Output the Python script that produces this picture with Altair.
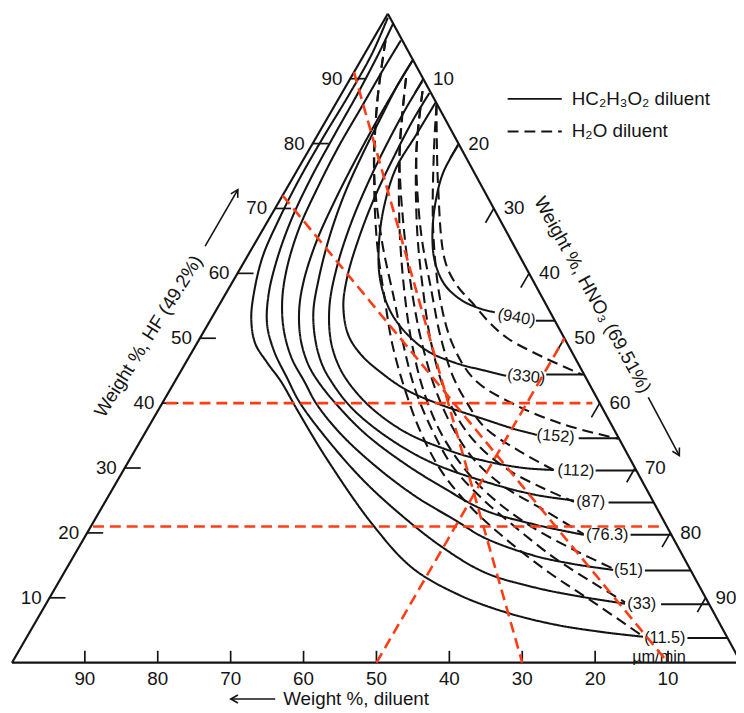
import altair as alt
import pandas as pd

FONT = "Liberation Sans, Arial, Helvetica, sans-serif"
INK = "#141414"
RED = "#ff3c14"

# ------------------------------------------------------------------
# Values.  Every point is (wt% HF, wt% HNO3);
# the diluent is the remainder (100 - HF - HNO3).
# ------------------------------------------------------------------
TICKS = [10, 20, 30, 40, 50, 60, 70, 80, 90]

RATES = ["940", "330", "152", "112", "87", "76.3", "51", "33", "11.5"]

# HC2H3O2 diluent (solid curves)
AC_940 = [(79.7, 20.1), (75.6, 20.2), (71.0, 21.5), (65.7, 23.8), (61.6, 26.3), (58.1, 29.5),
          (55.8, 33.0), (54.6, 36.0), (54.0, 38.4)]
AC_330 = [(86.3, 13.6), (81.3, 13.5), (76.1, 13.4), (70.3, 14.8), (64.9, 16.9), (59.6, 19.7),
          (55.0, 23.2), (51.7, 26.7), (48.2, 31.9), (46.2, 37.0), (45.0, 41.7), (44.2, 45.0)]
AC_152 = [(87.8, 12.0), (83.5, 11.9), (77.9, 12.2), (71.5, 12.8), (65.2, 13.9), (59.6, 15.3),
          (55.0, 17.1), (50.5, 20.1), (47.4, 23.5), (44.7, 27.6), (42.1, 32.3), (39.8, 38.2),
          (37.5, 45.5), (36.0, 50.4), (35.1, 53.9)]
AC_112 = [(89.6, 10.1), (85.8, 10.0), (80.2, 10.2), (74.1, 10.7), (67.7, 11.6), (61.1, 13.1),
          (55.0, 15.2), (49.7, 18.1), (45.9, 21.1), (43.1, 24.0), (39.3, 29.0), (35.5, 35.7),
          (32.9, 42.5), (31.1, 48.8), (30.0, 54.8), (29.7, 59.0)]
AC_87 = [(92.8, 7.1), (89.3, 7.0), (84.0, 7.3), (78.2, 7.7), (72.1, 8.4), (65.7, 9.7),
         (59.1, 11.6), (54.0, 13.5), (49.4, 16.2), (45.9, 18.9), (43.3, 21.5), (39.3, 26.3),
         (34.9, 33.3), (30.9, 41.5), (27.9, 50.5), (25.9, 58.3), (25.0, 64.2)]
AC_76_3 = [(92.8, 7.1), (88.6, 7.0), (83.2, 7.0), (77.1, 7.2), (71.0, 7.6), (64.9, 8.3),
           (58.8, 9.7), (54.3, 11.4), (49.7, 14.0), (45.9, 17.0), (43.3, 19.7), (39.8, 24.0),
           (35.2, 30.4), (30.6, 38.2), (26.8, 45.6), (23.5, 52.7), (21.3, 60.7), (19.7, 68.3)]
AC_51 = [(95.9, 3.9), (91.6, 3.8), (85.5, 3.8), (79.4, 3.8), (73.0, 4.2), (66.8, 4.9),
         (60.7, 6.4), (55.8, 8.3), (51.2, 10.9), (46.9, 14.2), (43.3, 17.8), (39.8, 21.3),
         (35.2, 27.0), (30.2, 34.4), (25.6, 42.2), (22.0, 49.4), (19.2, 55.0), (16.5, 63.1),
         (15.2, 69.2), (14.3, 75.1)]
AC_33 = [(98.5, 1.5), (93.9, 1.9), (87.8, 2.2), (81.3, 2.3), (74.8, 2.5), (68.4, 3.1),
         (62.2, 4.3), (56.6, 6.0), (52.0, 8.2), (47.9, 11.3), (43.9, 15.1), (40.1, 18.8),
         (34.5, 25.4), (28.4, 33.3), (23.5, 40.5), (18.0, 49.5), (13.9, 57.7), (11.6, 65.7),
         (10.1, 73.2), (9.1, 79.4)]
AC_11_5 = [(99.4, 0.3), (93.9, 1.0), (87.3, 1.1), (80.8, 0.95), (74.4, 1.0), (68.3, 1.4),
           (62.7, 2.1), (57.3, 3.7), (53.0, 5.5), (49.2, 8.0), (46.3, 11.1), (43.3, 14.6),
           (39.0, 19.0), (31.4, 27.0), (21.2, 38.6), (14.6, 47.4), (10.5, 55.8), (7.8, 63.6),
           (5.9, 71.3), (4.7, 78.7), (4.0, 84.5)]

# H2O diluent (dashed curves)
WA_330 = [(86.0, 13.9), (73.6, 20.5), (61.9, 27.5), (58.1, 31.1), (55.5, 34.5), (52.4, 38.5),
          (50.0, 42.2), (47.0, 48.8), (44.4, 55.3)]
WA_152 = [(86.0, 13.9), (78.7, 17.3), (66.5, 23.5), (55.8, 30.0), (48.9, 35.3), (43.6, 41.0),
          (39.8, 48.4), (36.7, 56.8), (34.5, 65.4)]
WA_112 = [(88.1, 10.9), (78.7, 14.9), (66.5, 21.8), (57.3, 28.0), (50.5, 32.7), (44.4, 37.5),
          (40.5, 41.3), (36.3, 46.1), (32.6, 52.8), (29.7, 59.0)]
WA_87 = [(88.1, 10.9), (78.7, 14.9), (66.5, 21.3), (56.6, 27.3), (49.7, 31.8), (42.8, 37.0),
         (37.5, 41.9), (33.2, 47.1), (29.6, 53.0), (26.8, 59.2), (24.8, 64.3)]
WA_76_3 = [(90.1, 7.6), (78.7, 12.6), (66.5, 19.5), (55.8, 26.3), (48.9, 31.1), (42.1, 36.4),
           (36.0, 42.0), (31.1, 47.5), (27.1, 53.6), (23.5, 60.9), (19.8, 68.2)]
WA_51 = [(90.1, 7.6), (78.7, 12.6), (66.5, 18.9), (55.8, 25.2), (48.9, 29.7), (42.1, 34.7),
         (35.7, 40.3), (30.2, 46.3), (25.8, 52.2), (21.2, 60.0), (17.4, 68.1), (14.5, 75.0)]
WA_33 = [(95.9, 1.8), (86.3, 5.6), (75.6, 10.7), (64.9, 17.3), (55.8, 23.7), (48.9, 28.5),
         (42.1, 33.6), (35.7, 39.3), (30.2, 44.9), (25.6, 51.0), (21.0, 58.1), (16.2, 66.0),
         (12.3, 73.4), (9.3, 79.3)]
WA_11_5 = [(95.9, 1.8), (86.3, 5.6), (75.6, 10.7), (64.9, 16.6), (55.8, 22.4), (48.9, 27.0),
           (42.1, 32.2), (35.7, 37.6), (29.6, 43.6), (24.1, 50.4), (19.2, 57.7), (13.9, 66.5),
           (9.3, 75.0), (4.1, 84.4)]

AC_CURVES = [AC_940, AC_330, AC_152, AC_112, AC_87, AC_76_3, AC_51, AC_33, AC_11_5]
WA_RATES = ["330", "152", "112", "87", "76.3", "51", "33", "11.5"]
WA_CURVES = [WA_330, WA_152, WA_112, WA_87, WA_76_3, WA_51, WA_33, WA_11_5]

# rate labels and the short leader from each label to the HNO3 side
LABEL_HF = [53.2, 44.1, 34.9, 29.6, 24.8, 19.7, 14.3, 9.1, 3.8]
LABEL_HNO3 = [41.8, 47.8, 56.6, 62.1, 66.6, 71.5, 77.2, 81.7, 87.6]
LABEL_TILT = [10, 6, 5, 2, 0, 0, 0, 0, 0]
LEAD_HF = [52.7, 44.4, 34.6, 29.6, 24.7, 19.7, 14.2, 9.0, 3.8]
LEAD_HNO3 = [44.7, 50.4, 59.9, 64.8, 69.1, 74.7, 79.5, 84.4, 90.7]
UNIT_POS = (0.9, 88.3)

# red guide lines: start / end compositions
GUIDE_START = [(40, 0.5), (21, 0.3), (91, 0), (72, 0), (0, 50)]
GUIDE_END = [(40, 59), (21, 78.2), (0, 70), (0, 90), (50, 50)]

FAMILIES = ["HC\u2082H\u2083O\u2082 diluent", "H\u2082O diluent"]

# axis titles (centre composition, rotation) and arrows (from, to, head angle)
TITLES = [("Weight %, diluent", (-5.6, 50.1), 0),
          ("Weight %, HF (49.2%)", (50.3, -7.2), 302),
          ("Weight %, HNO\u2083 (69.51%)", (56.7, 50.4), 61)]
ARROWS = [((-5.6, 39.0), (-5.6, 32.9), 270),
          ((64.2, -6.6), (72.9, -6.6), 30),
          ((40.9, 66.2), (31.9, 75.1), 151.5)]

# ------------------------------------------------------------------
# Layout of the triangle in the drawing frame
# ------------------------------------------------------------------
W, H = 736, 705
OFF = 8
BL = (12.0, 666.0)
BR = (749.0, 666.0)
TP = (392.0, 10.0)
TICK_LEN = 2.2


def tern(hf, hno3):
    d = 100.0 - hf - hno3
    x = (d * BL[0] + hno3 * BR[0] + hf * TP[0]) / 100.0
    y = (d * BL[1] + hno3 * BR[1] + hf * TP[1]) / 100.0
    return x, y


xs = alt.Scale(domain=[OFF, OFF + W], zero=False, nice=False)
ys = alt.Scale(domain=[OFF, OFF + H], zero=False, nice=False, reverse=True)
X = alt.X("x:Q", scale=xs, axis=None)
Y = alt.Y("y:Q", scale=ys, axis=None)

# triangle edges
corners = [(100, 0), (0, 100), (0, 0)]
edge_rows = []
for i in range(3):
    a = tern(*corners[i]); b = tern(*corners[(i + 1) % 3])
    edge_rows.append(dict(x=a[0], y=a[1], x2=b[0], y2=b[1]))

# ticks + labels
tick_rows, lab_l, lab_r, lab_b = [], [], [], []
for k in TICKS:
    x, y = tern(k, 0); x2, y2 = tern(k, TICK_LEN)
    tick_rows.append(dict(x=x, y=y, x2=x2, y2=y2)); lab_l.append(dict(x=x, y=y, t=str(k)))
    x, y = tern(100 - k, k); x2, y2 = tern(100 - k - TICK_LEN, k)
    tick_rows.append(dict(x=x, y=y, x2=x2, y2=y2)); lab_r.append(dict(x=x, y=y, t=str(k)))
    x, y = tern(0, 100 - k)
    tick_rows.append(dict(x=x, y=y, x2=x, y2=y - 12)); lab_b.append(dict(x=x, y=y, t=str(k)))

# curves
curve_rows = []
for fam, names, curves in [(FAMILIES[0], RATES, AC_CURVES), (FAMILIES[1], WA_RATES, WA_CURVES)]:
    for name, pts in zip(names, curves):
        for i, (hf, hn) in enumerate(pts):
            x, y = tern(hf, hn)
            curve_rows.append(dict(family=fam, curve=fam + name, idx=i, x=x, y=y))

# labels and leaders
label_rows, lead_rows = [], []
for r, hf, hn, a, lh, ln in zip(RATES, LABEL_HF, LABEL_HNO3, LABEL_TILT, LEAD_HF, LEAD_HNO3):
    x, y = tern(hf, hn)
    label_rows.append(dict(x=x, y=y, t="(" + r + ")", a=a))
    x, y = tern(lh, ln); x2, y2 = tern(lh, 100 - lh)
    lead_rows.append(dict(x=x, y=y, x2=x2, y2=y2))
ux, uy = tern(*UNIT_POS)
label_rows.append(dict(x=ux, y=uy, t="\u00b5m/min", a=0))

guide_rows = []
for s, e in zip(GUIDE_START, GUIDE_END):
    a = tern(*s); b = tern(*e)
    guide_rows.append(dict(x=a[0], y=a[1], x2=b[0], y2=b[1]))

title_rows = []
for t, pos, ang in TITLES:
    x, y = tern(*pos)
    title_rows.append(dict(x=x, y=y, t=t, a=ang))
arrow_rows, head_rows = [], []
for s, e, ang in ARROWS:
    a = tern(*s); b = tern(*e)
    arrow_rows.append(dict(x=a[0], y=a[1], x2=b[0], y2=b[1]))
    head_rows.append(dict(x=b[0], y=b[1], a=ang))


def rules(rows, **mk):
    return alt.Chart(pd.DataFrame(rows)).mark_rule(**mk).encode(
        x=X, y=Y, x2=alt.X2("x2:Q"), y2=alt.Y2("y2:Q"))


def texts(rows, **mk):
    return alt.Chart(pd.DataFrame(rows)).mark_text(font=FONT, color=INK, **mk).encode(
        x=X, y=Y, text=alt.Text("t:N"))


edges = rules(edge_rows, color=INK, strokeWidth=2.2)
ticks = rules(tick_rows, color=INK, strokeWidth=1.7)
tl = texts(lab_l, align="right", baseline="middle", dx=-8, fontSize=19)
tr = texts(lab_r, align="left", baseline="middle", dx=10, fontSize=19)
tb = texts(lab_b, align="center", baseline="middle", dy=17, fontSize=19)

curves = alt.Chart(pd.DataFrame(curve_rows)).mark_line(
    interpolate="catmull-rom", color=INK, strokeWidth=2.1).encode(
    x=X, y=Y, detail="curve:N", order="idx:Q",
    strokeDash=alt.StrokeDash(
        "family:N",
        scale=alt.Scale(domain=FAMILIES, range=[[1, 0], [11, 6]]),
        legend=alt.Legend(title=None, orient="none", legendX=504, legendY=79,
                          symbolType="stroke", symbolSize=3000, clipHeight=18,
                          rowPadding=14, labelFontSize=19, labelFont=FONT,
                          labelColor=INK, labelOffset=9, symbolStrokeWidth=2,
                          symbolStrokeColor=INK, padding=0, labelLimit=400)))

leads = rules(lead_rows, color=INK, strokeWidth=2)
rate_labels = alt.Chart(pd.DataFrame(label_rows)).mark_text(
    font=FONT, color=INK, fontSize=16.5, align="center", baseline="middle").encode(
    x=X, y=Y, text=alt.Text("t:N"), angle=alt.Angle("a:Q", scale=None))

guides = rules(guide_rows, color=RED, strokeWidth=2.6, strokeDash=[11, 6])

titles = alt.Chart(pd.DataFrame(title_rows)).mark_text(
    font=FONT, color=INK, fontSize=19, align="center", baseline="middle").encode(
    x=X, y=Y, text=alt.Text("t:N"), angle=alt.Angle("a:Q", scale=None))
arrows = rules(arrow_rows, color=INK, strokeWidth=1.6)
heads = alt.Chart(pd.DataFrame(head_rows)).mark_point(
    shape="M -0.5 0.9 L 0 0 L 0.5 0.9", filled=False, stroke=INK, strokeWidth=1.6,
    size=260, opacity=1).encode(x=X, y=Y, angle=alt.Angle("a:Q", scale=None))

chart = alt.layer(edges, ticks, tl, tr, tb, curves, leads, rate_labels, guides,
                  titles, arrows, heads).properties(
    width=W, height=H, padding=0, background="white",
    autosize=alt.AutoSizeParams(type="none")).configure_view(stroke=None)

chart.save("out.html", embed_options={"renderer": "svg", "actions": False})
